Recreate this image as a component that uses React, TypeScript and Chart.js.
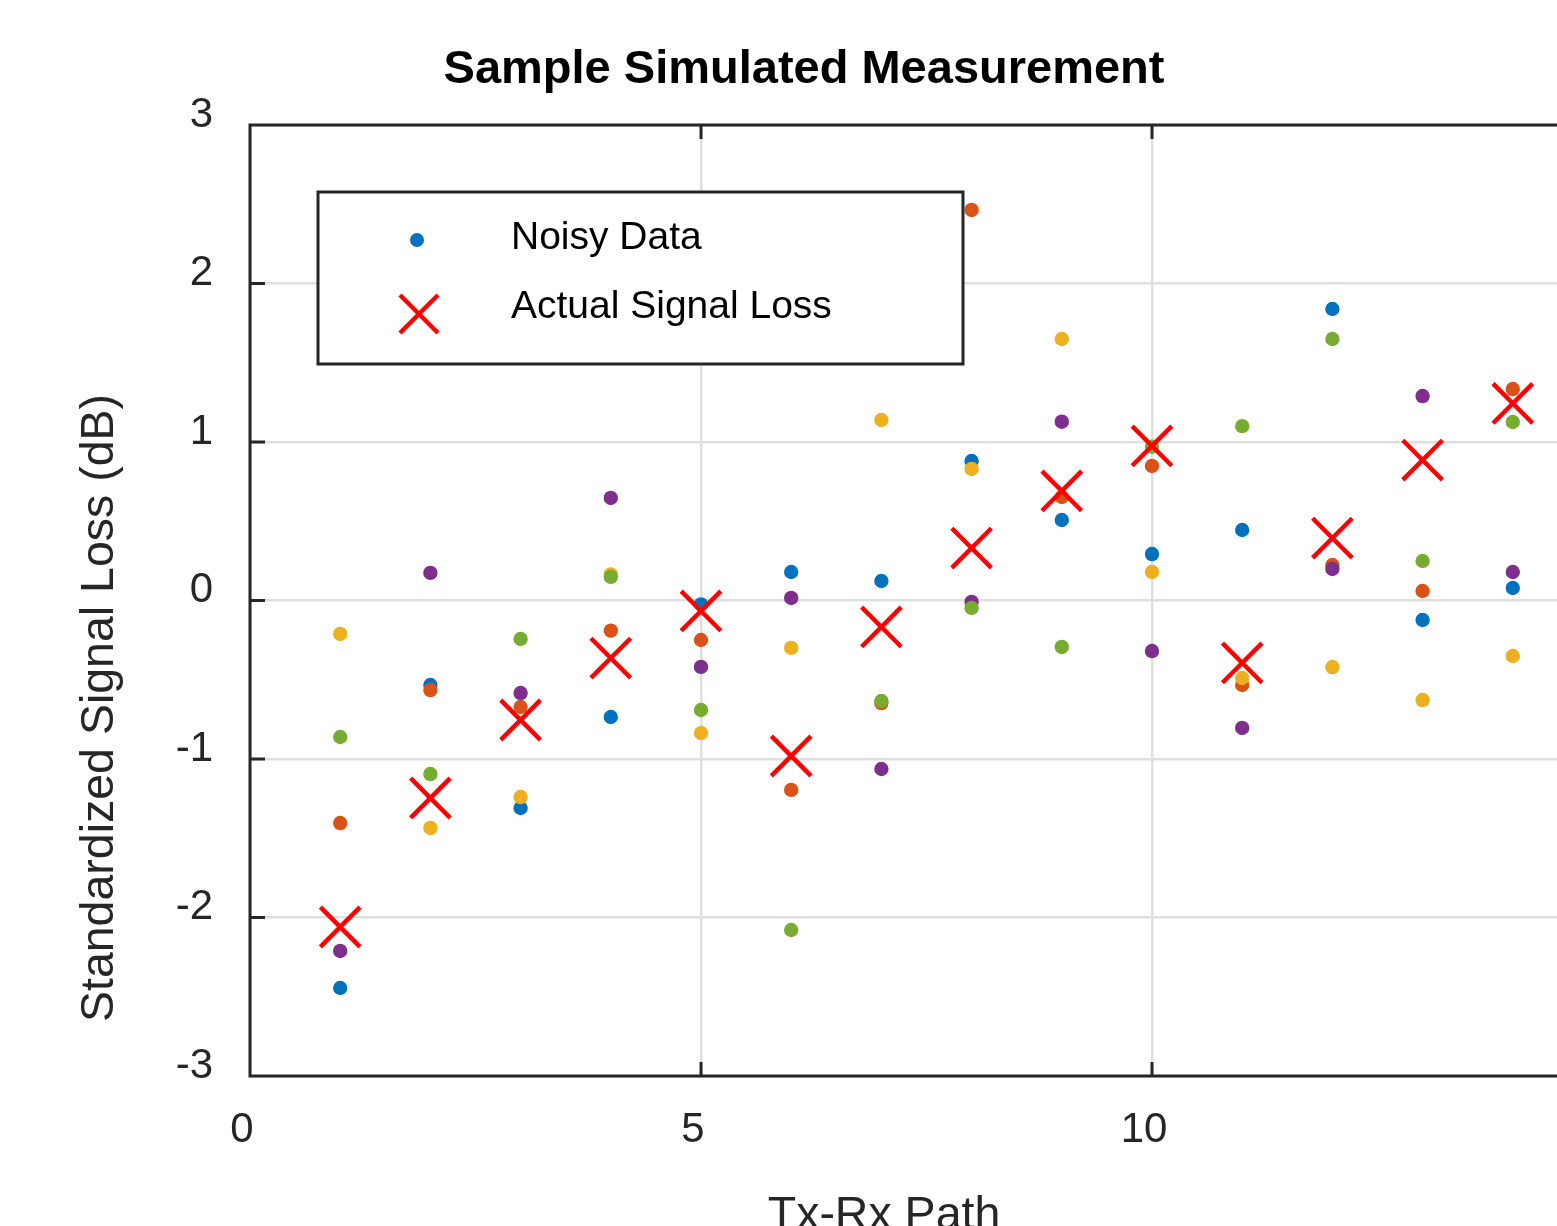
import React, { useEffect, useRef } from "react";
import { Chart, registerables } from "chart.js";

Chart.register(...registerables);

const paths = [1, 2, 3, 4, 5, 6, 7, 8, 9, 10, 11, 12, 13, 14];
const noisyBlue = [-2.445, -0.533, -1.309, -0.735, -0.025, 0.18, 0.123, 0.88, 0.508, 0.293, 0.445, 1.839, -0.123, 0.079];
const noisyOrange = [-1.404, -0.565, -0.672, -0.19, -0.249, -1.195, -0.647, 2.464, 0.653, 0.849, -0.533, 0.224, 0.06, 1.334];
const noisyYellow = [-0.211, -1.435, -1.24, 0.165, -0.836, -0.299, 1.139, 0.83, 1.65, 0.18, -0.489, -0.42, -0.628, -0.35];
const noisyPurple = [-2.211, 0.174, -0.584, 0.647, -0.419, 0.016, -1.063, -0.009, 1.128, -0.319, -0.804, 0.199, 1.29, 0.18];
const noisyGreen = [-0.861, -1.095, -0.243, 0.149, -0.691, -2.079, -0.634, -0.047, -0.293, 0.97, 1.1, 1.65, 0.249, 1.126];
const actualLoss = [-2.06, -1.246, -0.754, -0.363, -0.066, -0.981, -0.167, 0.331, 0.691, 0.975, -0.394, 0.394, 0.886, 1.243];

const xTicksStep = 5;
const xMin = 0;
const xMax = 15;
const yMin = -3;
const yMax = 3;

const titleText = "Sample Simulated Measurement";
const xTitle = "Tx-Rx Path";
const yTitle = "Standardized Signal Loss (dB)";
const legendLabels = ["Noisy Data", "Actual Signal Loss"];

const FONT = "'Liberation Sans', Arial, Helvetica, sans-serif";
const AXIS = "#262626";

const toPts = (ys: number[]) => paths.map((x, i) => ({ x, y: ys[i] }));

export default function App() {
  const ref = useRef<HTMLCanvasElement | null>(null);

  useEffect(() => {
    document.body.style.margin = "0";
    const canvas = ref.current!;
    const decor = {
      id: "decor",
      afterDraw(chart: any) {
        const ctx = chart.ctx;
        const a = chart.chartArea;
        const xs = chart.scales.x;
        const ys = chart.scales.y;
        ctx.save();
        // box
        ctx.strokeStyle = AXIS;
        ctx.lineWidth = 3;
        ctx.strokeRect(a.left, a.top, a.right - a.left, a.bottom - a.top);
        // inner ticks
        ctx.beginPath();
        for (let v = xMin + xTicksStep; v < xMax; v += xTicksStep) {
          const px = xs.getPixelForValue(v);
          ctx.moveTo(px, a.bottom);
          ctx.lineTo(px, a.bottom - 14);
          ctx.moveTo(px, a.top);
          ctx.lineTo(px, a.top + 14);
        }
        for (let v = yMin + 1; v < yMax; v += 1) {
          const py = ys.getPixelForValue(v);
          ctx.moveTo(a.left, py);
          ctx.lineTo(a.left + 15, py);
          ctx.moveTo(a.right, py);
          ctx.lineTo(a.right - 15, py);
        }
        ctx.stroke();
        // title
        ctx.fillStyle = "#000";
        ctx.textAlign = "center";
        ctx.textBaseline = "middle";
        ctx.font = `bold 47px ${FONT}`;
        ctx.fillText(titleText, 804, 70);
        // axis titles
        ctx.fillStyle = AXIS;
        ctx.font = `46.5px ${FONT}`;
        ctx.fillText(xTitle, 884, 1216);
        ctx.save();
        ctx.translate(100, 708);
        ctx.rotate(-Math.PI / 2);
        ctx.fillText(yTitle, 0, 0);
        ctx.restore();
        // legend
        ctx.fillStyle = "#fff";
        ctx.fillRect(318, 192, 645, 172);
        ctx.strokeStyle = AXIS;
        ctx.lineWidth = 3;
        ctx.strokeRect(318, 192, 645, 172);
        ctx.fillStyle = "#0072BD";
        ctx.beginPath();
        ctx.arc(417, 240, 7, 0, Math.PI * 2);
        ctx.fill();
        ctx.strokeStyle = "#FF0000";
        ctx.lineWidth = 4.5;
        ctx.beginPath();
        ctx.moveTo(400, 295);
        ctx.lineTo(438, 333);
        ctx.moveTo(438, 295);
        ctx.lineTo(400, 333);
        ctx.stroke();
        ctx.fillStyle = "#000";
        ctx.textAlign = "left";
        ctx.font = `39px ${FONT}`;
        ctx.fillText(legendLabels[0], 511, 238);
        ctx.fillText(legendLabels[1], 511, 307);
        ctx.restore();
      },
    };

    const dot = (label: string, ys: number[], color: string, order: number) => ({
      label,
      data: toPts(ys),
      backgroundColor: color,
      borderColor: color,
      borderWidth: 0,
      pointRadius: 7.2,
      pointHoverRadius: 7.2,
      order,
    });

    const chart = new Chart(canvas, {
      type: "scatter",
      data: {
        datasets: [
          dot("Noisy Data", noisyBlue, "#0072BD", 5),
          dot("Noisy Data 2", noisyOrange, "#D95319", 4),
          dot("Noisy Data 3", noisyYellow, "#EDB120", 3),
          dot("Noisy Data 4", noisyPurple, "#7E2F8E", 2),
          dot("Noisy Data 5", noisyGreen, "#77AC30", 1),
          {
            label: "Actual Signal Loss",
            data: toPts(actualLoss),
            pointStyle: "crossRot",
            pointRadius: 28,
            pointHoverRadius: 28,
            borderColor: "#FF0000",
            backgroundColor: "#FF0000",
            borderWidth: 4.5,
            order: 0,
          } as any,
        ],
      },
      options: {
        animation: false,
        responsive: false,
        maintainAspectRatio: false,
        events: [],
        layout: { padding: { left: 0, top: 125, right: 97, bottom: 0 } },
        plugins: { legend: { display: false }, title: { display: false }, tooltip: { enabled: false } },
        scales: {
          x: {
            type: "linear",
            min: xMin,
            max: xMax,
            afterFit: (s: any) => {
              s.height = 224;
            },
            border: { display: false },
            grid: { color: "#dfdfdf", lineWidth: 2.5, drawTicks: false },
            ticks: {
              stepSize: xTicksStep,
              color: AXIS,
              font: { family: FONT, size: 42 },
              padding: 29,
              labelOffset: -8,
              maxRotation: 0,
            },
          },
          y: {
            type: "linear",
            min: yMin,
            max: yMax,
            afterFit: (s: any) => {
              s.width = 250;
            },
            border: { display: false },
            grid: { color: "#dfdfdf", lineWidth: 2.5, drawTicks: false },
            ticks: {
              stepSize: 1,
              color: AXIS,
              font: { family: FONT, size: 42 },
              padding: 37,
              labelOffset: -10,
            },
          },
        },
      },
      plugins: [decor],
    } as any);
    return () => chart.destroy();
  }, []);

  return (
    <div style={{ position: "fixed", left: 0, top: 0, width: 1557, height: 1226, overflow: "hidden", background: "#fff" }}>
      <canvas ref={ref} width={1700} height={1300} style={{ position: "absolute", left: 0, top: 0, width: 1700, height: 1300 }} />
    </div>
  );
}
